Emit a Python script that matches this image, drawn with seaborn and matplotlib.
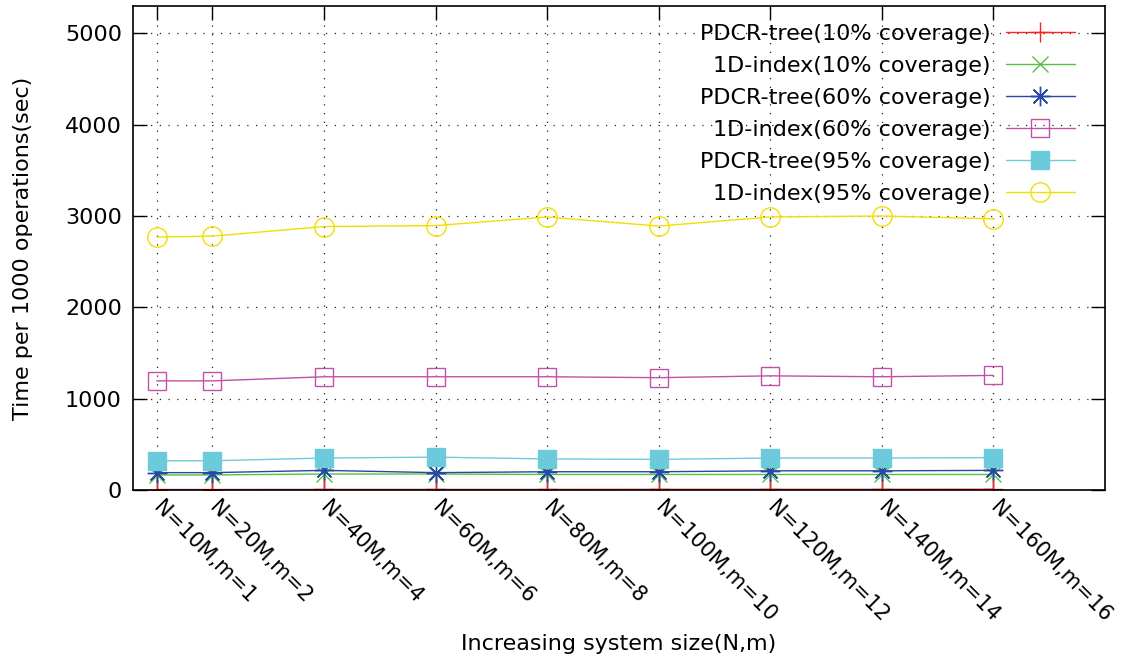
import matplotlib
matplotlib.use("Agg")
import matplotlib.pyplot as plt
import seaborn as sns

# System size: number of records N (millions) and matching m
n_millions = [10, 20, 40, 60, 80, 100, 120, 140, 160]
tick_labels = ["N=10M,m=1", "N=20M,m=2", "N=40M,m=4", "N=60M,m=6",
               "N=80M,m=8", "N=100M,m=10", "N=120M,m=12", "N=140M,m=14",
               "N=160M,m=16"]

# Time per 1000 operations (sec)
pdcr_10 = [5, 5, 6, 6, 6, 7, 7, 7, 8]
oned_10 = [165, 165, 175, 175, 170, 170, 170, 170, 170]
pdcr_60 = [190, 190, 215, 190, 200, 200, 210, 210, 215]
oned_60 = [1195, 1195, 1240, 1240, 1240, 1230, 1250, 1240, 1255]
pdcr_95 = [320, 320, 350, 360, 340, 335, 350, 350, 355]
oned_95 = [2770, 2780, 2885, 2895, 2990, 2890, 2990, 3000, 2970]

series_names = ["PDCR-tree(10% coverage)", "1D-index(10% coverage)",
                "PDCR-tree(60% coverage)", "1D-index(60% coverage)",
                "PDCR-tree(95% coverage)", "1D-index(95% coverage)"]
series_values = [pdcr_10, oned_10, pdcr_60, oned_60, pdcr_95, oned_95]

styles = [
    dict(color="#ff2020", marker="+", mfc="#ff2020", mec="#ff2020", ms=14),
    dict(color="#58c040", marker="x", mfc="#58c040", mec="#58c040", ms=11),
    dict(color="#2848a8", marker=(8, 2, 0), mfc="#2848a8", mec="#2848a8", ms=14),
    dict(color="#c050a8", marker="s", mfc="none", mec="#c050a8", ms=13),
    dict(color="#6ccbdb", marker="s", mfc="#6ccbdb", mec="#6ccbdb", ms=13),
    dict(color="#f0e000", marker="o", mfc="none", mec="#f0e000", ms=14),
]

sns.set_theme(style="white")
plt.rcParams["font.family"] = ["DejaVu Sans"]
plt.rcParams["text.color"] = "black"
plt.rcParams["axes.labelcolor"] = "black"
plt.rcParams["xtick.color"] = "black"
plt.rcParams["ytick.color"] = "black"

fig = plt.figure(figsize=(11.26, 6.67), dpi=100)
ax = fig.add_axes([133 / 1126, 1 - 490 / 667, (1105 - 133) / 1126, (490 - 6) / 667])

for name, vals, st in zip(series_names, series_values, styles):
    sns.lineplot(x=n_millions, y=vals, ax=ax, color=st["color"],
                 marker=st["marker"], markersize=st["ms"],
                 markerfacecolor=st["mfc"], markeredgecolor=st["mec"],
                 markeredgewidth=1.0, linewidth=1.0, label=name)

ax.set_xlim(5.76, 180)
ax.set_ylim(0, 5300)
ax.set_yticks([0, 1000, 2000, 3000, 4000, 5000])
ax.set_xticks(n_millions)
ax.set_xticklabels(tick_labels, rotation=-45, ha="left", va="center",
                   rotation_mode="anchor", fontsize=15)

ax.grid(True, linestyle=(0, (1, 6)), color="#222222", linewidth=0.9)
for sp in ax.spines.values():
    sp.set_color("black")
    sp.set_linewidth(1.2)
    sp.set_visible(True)
ax.tick_params(direction="in", length=10, width=1, top=True, right=True,
               bottom=True, left=True, labelsize=16, colors="black")
ax.tick_params(axis="x", pad=10, labelsize=15)
ax.tick_params(axis="y", pad=8)

ax.set_xlabel("Increasing system size(N,m)", fontsize=16, labelpad=6,
              color="black")
ax.set_ylabel("Time per 1000 operations(sec)", fontsize=16, labelpad=0,
              color="black")
ax.yaxis.set_label_coords(-100 / 972, 0.5)

handles, labels = ax.get_legend_handles_labels()
leg = ax.legend(handles, labels, loc="upper right",
                bbox_to_anchor=(0.969, 0.963), frameon=False,
                markerfirst=False, fontsize=16, borderpad=0, borderaxespad=0,
                handlelength=3.1, handletextpad=0.7, labelspacing=0.54)
for t in leg.get_texts():
    t.set_color("black")

fig.savefig("out.png", dpi=100)
